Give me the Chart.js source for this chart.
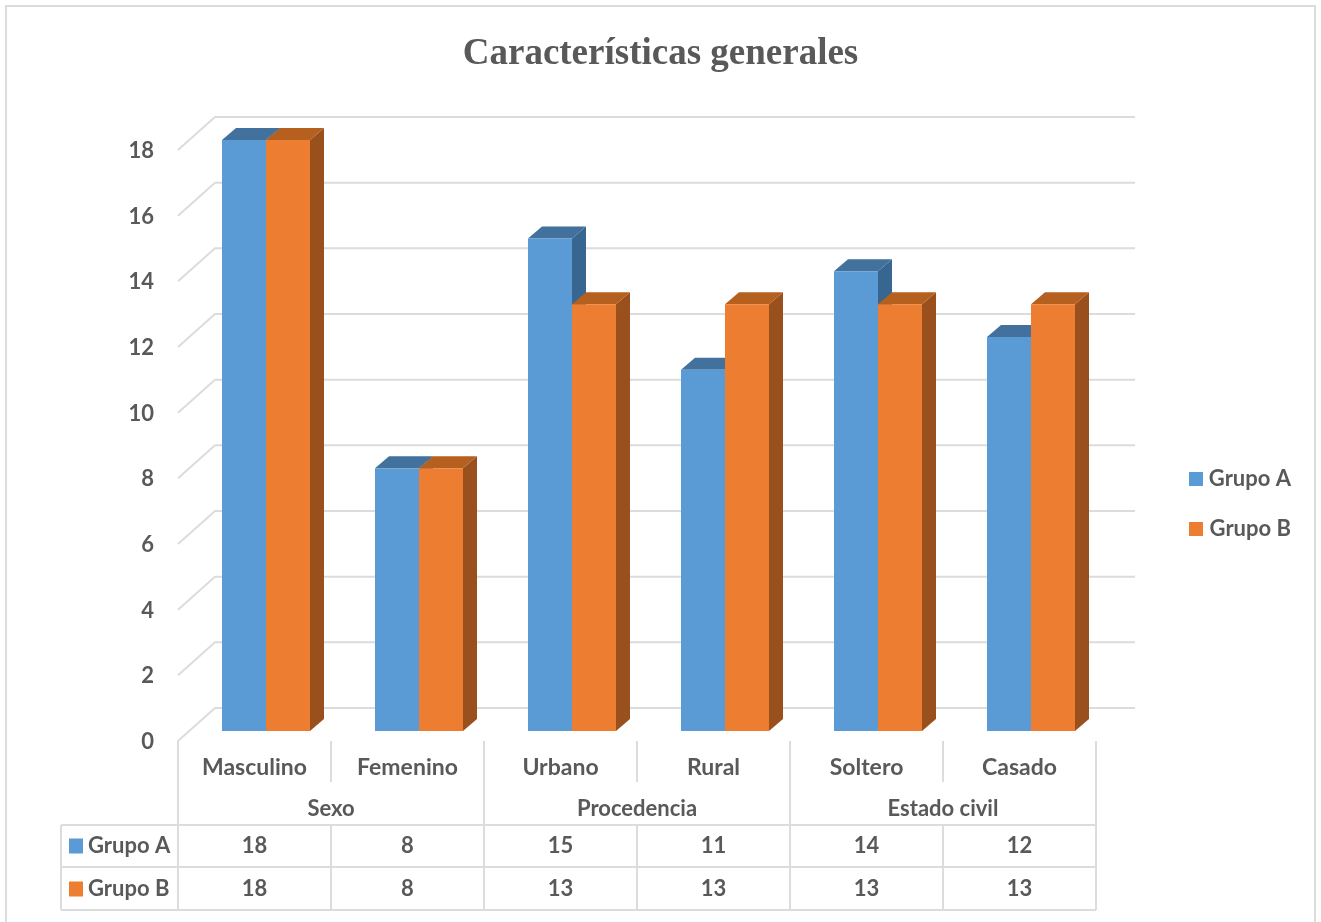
<!DOCTYPE html>
<html>
<head>
<meta charset="utf-8">
<style>html,body{margin:0;padding:0;background:#fff}canvas{display:block}</style>
<script src="https://cdn.jsdelivr.net/npm/chart.js@4/dist/chart.umd.min.js"></script>
</head>
<body>
<canvas id="c" width="1321" height="922"></canvas>
<script>
const categories = ["Masculino","Femenino","Urbano","Rural","Soltero","Casado"];
const groups = [["Sexo",0,1],["Procedencia",2,3],["Estado civil",4,5]];
const grupoA = [18,8,15,11,14,12];
const grupoB = [18,8,13,13,13,13];
const yTicks = [0,2,4,6,8,10,12,14,16,18];
const titleText = "Características generales";
const FONT = "Lato";
const TEXT = "#595959";
const LINE = "#dcdcdc";
const faces = [{top:"#41719c",side:"#376690"},{top:"#b5601f",side:"#9a501c"}];
const SHIFT = 11.5;   // bars sit this far right of the table columns

const scene = {
  id:"scene",
  afterLayout(chart){
    const lg = chart.legend;
    lg.left = 1189 - lg.options.labels.padding;
    lg.right = 1291;
    lg.top = 468 - lg.options.labels.padding;
    lg.bottom = lg.top + 200;
    const tt = chart.titleBlock;
    tt.left = 0; tt.right = 1321; tt.width = 1321;
  },
  beforeDatasetsDraw(chart){
    const {ctx,scales:{x,y}} = chart;
    ctx.save();
    // frame (its bottom edge lies past the picture)
    ctx.strokeStyle = LINE; ctx.lineWidth = 2;
    ctx.strokeRect(6,6,1309,930);
    // walls
    yTicks.forEach(v=>{
      const p = y.getPixelForValue(v);
      ctx.beginPath();
      ctx.moveTo(178,p+10);
      ctx.lineTo(215,p-23);
      ctx.lineTo(1135,p-23);
      ctx.stroke();
    });
    // bar depth
    const dx = 14, dy = 12;
    [0,1].forEach(d=>{
      chart.getDatasetMeta(d).data.forEach(b=>{
        const l = b.x-b.width/2, r = b.x+b.width/2, t = b.y, bot = b.base;
        ctx.fillStyle = faces[d].side;
        ctx.beginPath();ctx.moveTo(r,t);ctx.lineTo(r+dx,t-dy);ctx.lineTo(r+dx,bot-dy);ctx.lineTo(r,bot);ctx.closePath();ctx.fill();
        ctx.fillStyle = faces[d].top;
        ctx.beginPath();ctx.moveTo(l,t);ctx.lineTo(l+dx,t-dy);ctx.lineTo(r+dx,t-dy);ctx.lineTo(r,t);ctx.closePath();ctx.fill();
      });
    });
    ctx.restore();
  },
  afterDraw(chart){
    const {ctx,scales:{x,y}} = chart;
    const colW = x.getPixelForValue(1)-x.getPixelForValue(0);
    const edge = i => x.getPixelForValue(i)-SHIFT-colW/2;
    const n = categories.length;
    const rows = [825,867,910];
    const top = y.getPixelForValue(0)+10;
    ctx.save();
    ctx.strokeStyle = LINE; ctx.lineWidth = 2;
    const seg=(a,b,c,d)=>{ctx.beginPath();ctx.moveTo(a,b);ctx.lineTo(c,d);ctx.stroke();};
    rows.forEach(r=>seg(61,r,edge(n),r));
    seg(61,rows[0],61,rows[2]);
    for(let i=0;i<=n;i++){
      const isGroup = i%2===0;
      seg(edge(i),rows[0],edge(i),rows[2]);
      if(isGroup) seg(edge(i),top,edge(i),rows[0]);
      else seg(edge(i),top,edge(i),782);
    }
    ctx.fillStyle = TEXT;
    ctx.font = `bold 22px ${FONT}`;
    ctx.textAlign = "center"; ctx.textBaseline = "middle";
    groups.forEach(([g,a,b])=>ctx.fillText(g,(edge(a)+edge(b+1))/2,809));
    [[grupoA,845.5],[grupoB,888.5]].forEach(([vals,ry])=>{
      vals.forEach((v,i)=>ctx.fillText(String(v),(edge(i)+edge(i+1))/2,ry));
    });
    ctx.textAlign = "left";
    chart.data.datasets.forEach((ds,d)=>{
      const ry = d===0?845.5:888.5;
      ctx.fillStyle = ds.backgroundColor;
      ctx.fillRect(69,ry-7,14,15);
      ctx.fillStyle = TEXT;
      ctx.fillText(ds.label,88,ry);
    });
    ctx.restore();
  }
};

new Chart(document.getElementById("c"),{
  type:"bar",
  data:{labels:categories,datasets:[
    {label:"Grupo A",data:grupoA,backgroundColor:"#5b9bd5",borderWidth:0},
    {label:"Grupo B",data:grupoB,backgroundColor:"#ed7d31",borderWidth:0}
  ]},
  plugins:[scene],
  options:{
    responsive:false,animation:false,
    devicePixelRatio:1,
    layout:{padding:{left:0,right:213.5,top:0,bottom:0}},
    datasets:{bar:{categoryPercentage:88/153,barPercentage:1}},
    plugins:{
      tooltip:{enabled:false},
      title:{display:true,text:titleText,color:TEXT,font:{family:"Liberation Serif",size:37,weight:"bold"},padding:{top:32,bottom:63.6}},
      legend:{position:"chartArea",align:"start",
        labels:{boxWidth:14,boxHeight:14,padding:28,textAlign:"right",color:TEXT,font:{family:FONT,size:22,weight:"bold"}}}
    },
    scales:{
      x:{
        grid:{display:false},border:{display:false},
        afterFit(s){s.height=191;},
        ticks:{color:TEXT,font:{family:FONT,size:23,weight:"bold"},padding:15,labelOffset:-SHIFT,autoSkip:false,maxRotation:0}
      },
      y:{
        min:0,max:18,
        grid:{display:false},border:{display:false},
        afterFit(s){s.width=189.5;},
        afterBuildTicks(s){s.ticks=yTicks.map(v=>({value:v}));},
        ticks:{color:TEXT,font:{family:FONT,size:22,weight:"bold"},padding:27.5,labelOffset:11}
      }
    }
  }
});
</script>
</body>
</html>
